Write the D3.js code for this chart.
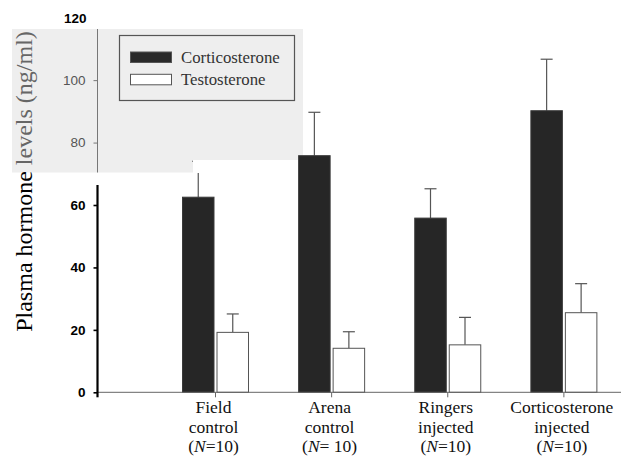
<!DOCTYPE html>
<html><head><meta charset="utf-8">
<script src="https://cdn.jsdelivr.net/npm/d3@7"></script>
<style>body{margin:0;background:#fff}svg{display:block}</style>
</head><body><svg id="c" width="621" height="457"></svg>
<script>
const groups = ["Field control", "Arena control", "Ringers injected", "Corticosterone injected"];
const groupLines = [["Field", "control", "(N=10)"], ["Arena", "control", "(N= 10)"], ["Ringers", "injected", "(N=10)"], ["Corticosterone", "injected", "(N=10)"]];
const series = ["Corticosterone", "Testosterone"];
const corticosterone = [62.5, 75.8, 55.8, 90.2];
const corticosteroneSE = [11.5, 13.9, 9.4, 16.5];
const testosterone = [19.2, 14.1, 15.2, 25.5];
const testosteroneSE = [5.9, 5.3, 8.8, 9.3];
const yTicks = [0, 20, 40, 60, 80, 100, 120];

const W = 621, H = 457;
const svg = d3.select("#c");
const axisX = 97.5;
const y = d3.scaleLinear().domain([0, 120]).range([392.3, 17.7]);
const x = d3.scaleBand().domain(groups).range([157.5, 622]);
const xs = d3.scaleBand().domain(series).range([25, 91]).paddingInner(0.087);

const patchFill = "#eeeeee";
// grey scanned patch
svg.append("path")
  .attr("d", "M12,29 H303 V160 H193 V172.5 H12 Z")
  .attr("fill", patchFill);

const values = {Corticosterone: corticosterone, Testosterone: testosterone};
const ses = {Corticosterone: corticosteroneSE, Testosterone: testosteroneSE};
const fills = {Corticosterone: "#262626", Testosterone: "#ffffff"};

const data = [];
groups.forEach((g, i) => series.forEach(s => data.push({g, s, v: values[s][i], e: ses[s][i]})));

// error bars
const eb = svg.append("g").attr("stroke", "#555").attr("stroke-width", 1.2);
data.forEach(d => {
  const cx = x(d.g) + xs(d.s) + xs.bandwidth() / 2;
  eb.append("line").attr("x1", cx).attr("x2", cx).attr("y1", y(d.v)).attr("y2", y(d.v + d.e));
  eb.append("line").attr("x1", cx - 6).attr("x2", cx + 6).attr("y1", y(d.v + d.e)).attr("y2", y(d.v + d.e));
});

// bars
svg.append("g").selectAll("rect").data(data).join("rect")
  .attr("x", d => x(d.g) + xs(d.s))
  .attr("width", xs.bandwidth())
  .attr("y", d => y(d.v))
  .attr("height", d => y(0) - y(d.v))
  .attr("fill", d => fills[d.s])
  .attr("stroke", d => d.s === "Testosterone" ? "#555" : "#3a3a3a")
  .attr("stroke-width", 1);

// white scan gap
svg.append("rect").attr("x", 193).attr("y", 160).attr("width", 104).attr("height", 13).attr("fill", "#fff");

// x axis baseline
svg.append("line").attr("x1", axisX).attr("x2", W).attr("y1", y(0)).attr("y2", y(0))
  .attr("stroke", "#666").attr("stroke-width", 1);
svg.append("g").selectAll("line").data(groups).join("line")
  .attr("x1", d => x(d) + 58).attr("x2", d => x(d) + 58)
  .attr("y1", y(0)).attr("y2", y(0) + 5)
  .attr("stroke", "#666").attr("stroke-width", 1);

// y axis
const inPatch = v => v > 70 && v < 115;
svg.append("line").attr("x1", axisX).attr("x2", axisX).attr("y1", 185).attr("y2", y(0) + 5)
  .attr("stroke", "#000").attr("stroke-width", 2.2);
svg.append("line").attr("x1", axisX).attr("x2", axisX).attr("y1", 29).attr("y2", 172.5)
  .attr("stroke", "#777").attr("stroke-width", 1);

const yAxis = svg.append("g").attr("transform", `translate(${axisX},0)`)
  .call(d3.axisLeft(y).tickValues(yTicks).tickSize(4).tickPadding(8).tickFormat(d3.format("d")));
yAxis.select(".domain").remove();
yAxis.selectAll(".tick line")
  .attr("stroke", d => inPatch(d) ? "#777" : "#000")
  .attr("stroke-width", d => inPatch(d) ? 1 : 1.6)
  .attr("display", d => d === 120 ? "none" : null);
yAxis.selectAll(".tick text")
  .attr("font-family", "Liberation Sans, Arial, sans-serif")
  .attr("font-size", 13.5)
  .attr("font-weight", d => inPatch(d) ? "normal" : "bold")
  .attr("fill", d => inPatch(d) ? "#555" : "#000")
  .attr("dx", d => d === 120 ? 1 : 0);

// y title
const yt = svg.append("text")
  .attr("transform", "translate(32,181.5) rotate(-90)")
  .attr("text-anchor", "middle")
  .attr("font-family", "Liberation Serif, Times New Roman, serif")
  .attr("font-size", 24);
yt.append("tspan").attr("fill", "#000").text("Plasma hormone ");
yt.append("tspan").attr("fill", "#666").text("levels (ng/ml)");

// legend
const lg = svg.append("g");
lg.append("rect").attr("x", 119.5).attr("y", 35.5).attr("width", 175).attr("height", 65)
  .attr("fill", "none").attr("stroke", "#555").attr("stroke-width", 1.2);
series.forEach((s, i) => {
  lg.append("rect").attr("x", 130.5).attr("y", 52 + i * 22.3).attr("width", 41).attr("height", 10.5)
    .attr("fill", i === 0 ? "#2a2a2a" : "#fff").attr("stroke", "#555").attr("stroke-width", 1);
  lg.append("text").attr("x", 181).attr("y", 63 + i * 22.3)
    .attr("font-family", "Liberation Serif, Times New Roman, serif")
    .attr("font-size", 16.8).attr("fill", "#333").text(s);
});

// x labels
const xl = svg.append("g")
  .attr("font-family", "Liberation Serif, Times New Roman, serif")
  .attr("font-size", 17.5).attr("fill", "#111").attr("text-anchor", "middle");
groups.forEach((g, i) => {
  const cx = x(g) + 56;
  groupLines[i].forEach((ln, j) => {
    const t = xl.append("text").attr("x", cx).attr("y", 413 + j * 19.5);
    if (ln.startsWith("(N")) {
      t.append("tspan").text("(");
      t.append("tspan").attr("font-style", "italic").text("N");
      t.append("tspan").text(ln.slice(2));
    } else t.text(ln);
  });
});
</script></body></html>
